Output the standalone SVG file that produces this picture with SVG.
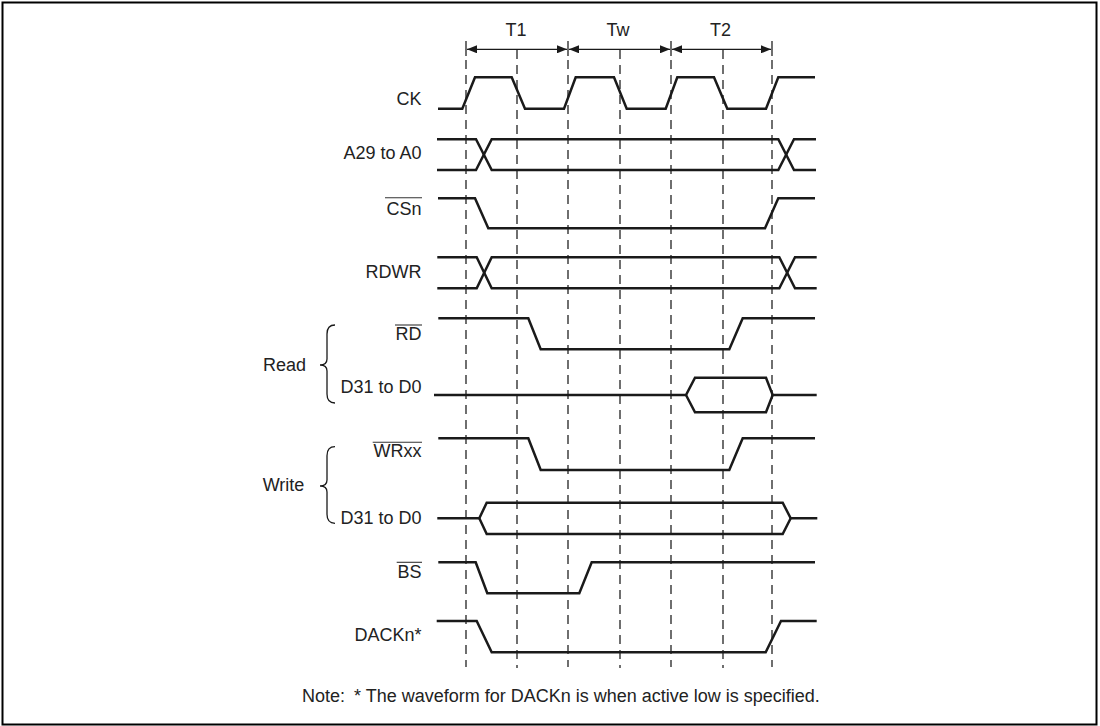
<svg xmlns="http://www.w3.org/2000/svg" width="1100" height="726" viewBox="0 0 1100 726">
<defs>
<style>
.frame{fill:none;stroke:#000;stroke-width:2}
.wave{fill:none;stroke:#1a1a1a;stroke-width:2.5;stroke-linejoin:miter}
.grid{fill:none;stroke:#222;stroke-width:1.3;stroke-dasharray:9 6}
.tick{fill:none;stroke:#222;stroke-width:1.3}
.dim{fill:none;stroke:#1a1a1a;stroke-width:1.3}
.brace{fill:none;stroke:#1a1a1a;stroke-width:1.3}
.ovl{fill:none;stroke:#333;stroke-width:1.1}
text{font-family:"Liberation Sans",Arial,Helvetica,sans-serif;font-size:18px;fill:#222}
.lbl{text-anchor:end}
.mid{text-anchor:middle}
</style>
<marker id="ah" viewBox="0 0 10 8" refX="10" refY="4" markerWidth="10" markerHeight="8" markerUnits="userSpaceOnUse" orient="auto-start-reverse">
<path d="M0,0 L10,4 L0,8 z" fill="#1a1a1a"/>
</marker>
</defs>
<rect class="frame" x="2.5" y="2.5" width="1094" height="722"/>

<g id="timing-grid">
<path class="tick" d="M466,41 V56 M568,41 V56 M671,41 V56 M772,41 V56"/>
<path class="grid" d="M466,60 V667 M568,60 V667 M671,60 V667 M772,60 V667"/>
<path class="grid" d="M517,50 V668 M620,50 V668 M723,50 V668"/>
</g>

<g id="connectors">
<line class="dim" x1="467" y1="49.3" x2="567" y2="49.3" marker-start="url(#ah)" marker-end="url(#ah)"/>
<line class="dim" x1="569" y1="49.3" x2="670" y2="49.3" marker-start="url(#ah)" marker-end="url(#ah)"/>
<line class="dim" x1="672" y1="49.3" x2="771" y2="49.3" marker-start="url(#ah)" marker-end="url(#ah)"/>
</g>

<g id="period-labels">
<text class="mid" x="516" y="36">T1</text>
<text class="mid" x="618" y="36">Tw</text>
<text class="mid" x="720.5" y="36">T2</text>
</g>

<g id="sig-ck">
<text class="lbl" x="421.5" y="105">CK</text>
<path class="wave" d="M438,108.7 L462.3,108.7 L475,77.3 L511.7,77.3 L525,108.7 L564,108.7 L575.7,77.3 L614,77.3 L626.7,108.7 L665.7,108.7 L677.3,77.3 L714,77.3 L727.3,108.7 L766,108.7 L778.3,77.3 L815,77.3"/>
</g>

<g id="sig-addr">
<text class="lbl" x="421.5" y="159">A29 to A0</text>
<path class="wave" d="M437,139.3 L476,139.3 L491.7,170 L778.3,170 L794,139.3 L816,139.3"/>
<path class="wave" d="M437,170 L476,170 L491.7,139.3 L778.3,139.3 L794,170 L816,170"/>
</g>

<g id="sig-csn">
<text class="lbl" x="421.5" y="215">CSn</text>
<line class="ovl" x1="385" y1="197.7" x2="422" y2="197.7"/>
<path class="wave" d="M438,198.3 L475,198.3 L488.3,228.3 L765,228.3 L778.3,198.3 L815,198.3"/>
</g>

<g id="sig-rdwr">
<text class="lbl" x="421.5" y="278.3">RDWR</text>
<path class="wave" d="M437.3,257.3 L476.7,257.3 L491.7,288.3 L779.3,288.3 L795,257.3 L816.7,257.3"/>
<path class="wave" d="M437.3,288.3 L476.7,288.3 L491.7,257.3 L779.3,257.3 L795,288.3 L816.7,288.3"/>
</g>

<g id="group-read">
<text x="263" y="370.7">Read</text>
<path class="brace" d="M335,325 Q327,325 327,334 L327,359 Q327,365 320,365 Q327,365 327,371 L327,394 Q327,403 335,403"/>
</g>

<g id="sig-rd">
<text class="lbl" x="421.5" y="340">RD</text>
<line class="ovl" x1="395" y1="325" x2="422" y2="325"/>
<path class="wave" d="M438.3,318.3 L528.3,318.3 L540.7,349.3 L729.3,349.3 L742.7,318.3 L815,318.3"/>
</g>

<g id="sig-read-data">
<text class="lbl" x="421.5" y="392.7">D31 to D0</text>
<path class="wave" d="M434,395 L686,395 L695,377.7 L766,377.7 L772.7,395 L816.7,395"/>
<path class="wave" d="M686,395 L695,412.3 L766,412.3 L772.7,395"/>
</g>

<g id="group-write">
<text x="262.7" y="490.7">Write</text>
<path class="brace" d="M335,446.7 Q327,446.7 327,455.7 L327,480 Q327,486 320,486 Q327,486 327,492 L327,514.3 Q327,523.3 335,523.3"/>
</g>

<g id="sig-wrxx">
<text class="lbl" x="421.5" y="457.3">WRxx</text>
<line class="ovl" x1="372.7" y1="442.3" x2="422" y2="442.3"/>
<path class="wave" d="M438.3,438.3 L528.3,438.3 L540.7,470 L729.3,470 L742.7,438.3 L815,438.3"/>
</g>

<g id="sig-write-data">
<text class="lbl" x="421.5" y="524">D31 to D0</text>
<path class="wave" d="M437.3,518.3 L479.3,518.3 L486.7,502.7 L782.7,502.7 L790.7,518.3 L817.3,518.3"/>
<path class="wave" d="M479.3,518.3 L486.7,534 L782.7,534 L790.7,518.3"/>
</g>

<g id="sig-bs">
<text class="lbl" x="421.5" y="578.3">BS</text>
<line class="ovl" x1="396.7" y1="562.3" x2="422" y2="562.3"/>
<path class="wave" d="M438.3,562.3 L475.7,562.3 L487.3,593.3 L579.3,593.3 L591.7,562.3 L815,562.3"/>
</g>

<g id="sig-dackn">
<text class="lbl" x="421.5" y="640.7">DACKn*</text>
<path class="wave" d="M436.7,621 L476.7,621 L491.7,652.3 L765.7,652.3 L781,621 L816.7,621"/>
</g>

<g id="note">
<text x="302" y="702">Note:</text>
<text x="354" y="702">* The waveform for DACKn is when active low is specified.</text>
</g>
</svg>
